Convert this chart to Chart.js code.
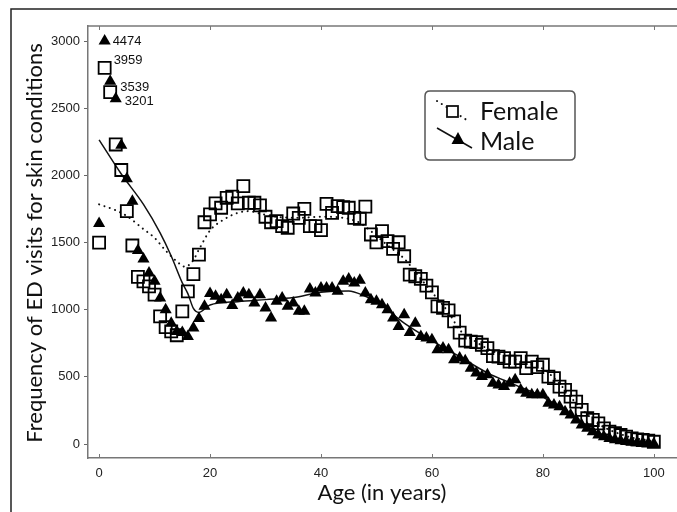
<!DOCTYPE html>
<html>
<head>
<meta charset="utf-8">
<title>ED visits for skin conditions</title>
<script src="https://cdn.jsdelivr.net/npm/chart.js@4.4.0/dist/chart.umd.min.js"></script>
<style>
body{margin:0;background:#fff;}
#wrap{width:677px;height:512px;}
</style>
</head>
<body>
<div id="wrap"><canvas id="chart" width="677" height="512"></canvas></div>
<script>
// ages 0..100
var ages = [0,1,2,3,4,5,6,7,8,9,10,11,12,13,14,15,16,17,18,19,20,
  21,22,23,24,25,26,27,28,29,30,31,32,33,34,35,36,37,38,39,40,
  41,42,43,44,45,46,47,48,49,50,51,52,53,54,55,56,57,58,59,60,
  61,62,63,64,65,66,67,68,69,70,71,72,73,74,75,76,77,78,79,80,
  81,82,83,84,85,86,87,88,89,90,91,92,93,94,95,96,97,98,99,100];

// plotted heights (ages 1-3 are drawn off-scale, true counts in noteText)
var female = [1500,2800,2620,2230,2040,1734,1478,1244,1211,1174,1112,
  950,870,838,810,988,1137,1265,1410,1651,1709,
  1791,1759,1833,1841,1791,1920,1796,1796,1776,1692,
  1651,1659,1622,1610,1716,1684,1751,1622,1622,1593,
  1788,1721,1771,1764,1759,1684,1677,1767,1560,1502,
  1585,1510,1453,1502,1398,1261,1249,1229,1179,1129,
  1025,1013,995,913,830,770,763,758,739,714,
  655,651,639,614,614,639,565,614,572,590,
  502,490,428,403,353,316,254,192,179,154,
  117,92,80,67,55,42,35,30,25,17];

var male = [1642,3000,2700,2570,2224,1975,1808,1440,1378,1274,1211,
  1087,1000,900,838,830,800,863,935,1025,1120,
  1100,1075,1112,1032,1087,1125,1112,1050,1112,1013,
  938,1062,1087,1025,1050,988,988,1154,1125,1162,
  1162,1162,1137,1211,1229,1199,1219,1125,1075,1062,
  1037,1000,938,875,963,830,900,801,789,776,
  701,714,701,627,640,620,565,528,502,515,
  453,440,428,453,478,403,378,366,366,366,
  303,291,278,241,216,179,142,117,92,67,
  55,42,32,25,18,14,10,7,5,3];

// smoothed curves
var femaleFitAges = [0,3,5,8,10,12,14,15.5,17,18,20,22,25,27,29,32,36,40,44,47,49,52,55,58,60,63,65,68,70,75,80,83,85,88,90,95,100];
var femaleFit = [1784,1740,1697,1600,1535,1440,1360,1320,1370,1448,1590,1659,1721,1734,1716,1692,1684,1692,1684,1647,1585,1480,1380,1230,1130,980,850,760,710,630,560,450,350,220,150,60,20];
var maleFitAges = [0,4,8,11,13,15,16,17,18,20,25,30,35,40,45,48,50,55,60,65,70,75,80,85,90,95,100];
var maleFit = [2264,2010,1784,1572,1400,1200,1120,1010,980,1035,1060,1075,1090,1130,1140,1100,1060,900,770,650,530,440,350,220,80,25,5];

var xTicks = [0,20,40,60,80,100];
var yTicks = [0,500,1000,1500,2000,2500,3000];

// labels for the off-scale points
var noteAges = [1,1,2,3];
var noteSeries = ['male','female','male','male'];
var noteText = ['4474','3959','3539','3201'];

function pts(xs, ys){
  var out = [];
  for (var i = 0; i < xs.length; i++) out.push({x: xs[i], y: ys[i]});
  return out;
}

var extras = {
  id: 'extras',
  afterDraw: function(chart){
    var ctx = chart.ctx, xs = chart.scales.x, ys = chart.scales.y, a = chart.chartArea;
    ctx.save();
    // outer frame
    ctx.strokeStyle = '#222'; ctx.lineWidth = 1.5;
    ctx.beginPath(); ctx.moveTo(11, 512); ctx.lineTo(11, 9); ctx.lineTo(677, 9); ctx.stroke();
    // top axis line
    ctx.strokeStyle = '#777'; ctx.lineWidth = 1.5;
    ctx.beginPath(); ctx.moveTo(a.left, a.top); ctx.lineTo(677, a.top); ctx.stroke();
    // inward x ticks top and bottom
    ctx.lineWidth = 1;
    xTicks.forEach(function(v){
      var px = Math.round(xs.getPixelForValue(v)) + 0.5;
      ctx.beginPath();
      ctx.moveTo(px, a.top); ctx.lineTo(px, a.top + 4);
      ctx.moveTo(px, a.bottom); ctx.lineTo(px, a.bottom - 4);
      ctx.stroke();
    });
    // axis titles
    ctx.fillStyle = '#111';
    ctx.font = '22px Lato';
    ctx.textAlign = 'center'; ctx.textBaseline = 'middle';
    ctx.fillText('Age (in years)', 382, 493);
    ctx.save();
    ctx.translate(35, 243); ctx.rotate(-Math.PI / 2);
    ctx.fillText('Frequency of ED visits for skin conditions', 0, 0);
    ctx.restore();
    // notes on off-scale points
    ctx.font = '13px "Liberation Sans"';
    ctx.textAlign = 'left';
    var offs = [[8, 0], [9, -7], [10, 6], [9, 3]];
    for (var i = 0; i < noteAges.length; i++) {
      var arr = noteSeries[i] === 'male' ? male : female;
      var px = xs.getPixelForValue(noteAges[i]);
      var py = ys.getPixelForValue(arr[noteAges[i]]);
      ctx.fillText(noteText[i], px + offs[i][0], py + offs[i][1]);
    }
    // legend
    var bx = 425, by = 91, bw = 150, bh = 69, r = 5;
    ctx.strokeStyle = '#555'; ctx.lineWidth = 1.5;
    ctx.beginPath();
    ctx.moveTo(bx + r, by); ctx.lineTo(bx + bw - r, by); ctx.quadraticCurveTo(bx + bw, by, bx + bw, by + r);
    ctx.lineTo(bx + bw, by + bh - r); ctx.quadraticCurveTo(bx + bw, by + bh, bx + bw - r, by + bh);
    ctx.lineTo(bx + r, by + bh); ctx.quadraticCurveTo(bx, by + bh, bx, by + bh - r);
    ctx.lineTo(bx, by + r); ctx.quadraticCurveTo(bx, by, bx + r, by);
    ctx.stroke();
    // female key
    ctx.strokeStyle = '#111'; ctx.lineWidth = 2; ctx.lineCap = 'round';
    ctx.setLineDash([0.1, 5.5]);
    ctx.beginPath(); ctx.moveTo(437, 101); ctx.lineTo(470, 122); ctx.stroke();
    ctx.setLineDash([]); ctx.lineCap = 'butt';
    ctx.fillStyle = '#fff'; ctx.lineWidth = 1.8;
    ctx.fillRect(447, 106, 11, 11); ctx.strokeRect(447, 106, 11, 11);
    // male key
    ctx.lineWidth = 1.5;
    ctx.beginPath(); ctx.moveTo(437, 128); ctx.lineTo(472, 148); ctx.stroke();
    ctx.fillStyle = '#000';
    ctx.beginPath(); ctx.moveTo(458, 132); ctx.lineTo(464.5, 144); ctx.lineTo(451.5, 144); ctx.closePath(); ctx.fill();
    ctx.fillStyle = '#111';
    ctx.font = '25px Lato'; ctx.textBaseline = 'middle';
    ctx.fillText('Female', 480, 112);
    ctx.fillText('Male', 480, 142);
    ctx.restore();
  }
};

new Chart(document.getElementById('chart'), {
  type: 'scatter',
  data: {
    datasets: [{
      label: 'Female',
      data: pts(ages, female),
      pointStyle: 'rect',
      pointRadius: 8.5,
      pointBorderWidth: 1.8,
      pointBorderColor: '#000',
      pointBackgroundColor: 'rgba(0,0,0,0)',
      showLine: false
    }, {
      label: 'Male',
      data: pts(ages, male),
      pointStyle: 'triangle',
      pointRadius: 7,
      pointBorderWidth: 0,
      pointBorderColor: '#000',
      pointBackgroundColor: '#000',
      showLine: false
    }, {
      label: 'Female fit',
      data: pts(femaleFitAges, femaleFit),
      showLine: true,
      pointRadius: 0,
      borderColor: '#111',
      borderWidth: 2,
      borderDash: [0.1, 5.5],
      borderCapStyle: 'round',
      cubicInterpolationMode: 'monotone'
    }, {
      label: 'Male fit',
      data: pts(maleFitAges, maleFit),
      showLine: true,
      pointRadius: 0,
      borderColor: '#111',
      borderWidth: 1.5,
      cubicInterpolationMode: 'monotone'
    }]
  },
  options: {
    responsive: false,
    animation: false,
    devicePixelRatio: 1,
    layout: {autoPadding: false, padding: {top: 26, right: 1, left: 0, bottom: 0}},
    plugins: {legend: {display: false}, tooltip: {enabled: false}},
    scales: {
      x: {
        type: 'linear', min: -2, max: 104,
        afterBuildTicks: function(s){ s.ticks = xTicks.map(function(v){ return {value: v}; }); },
        afterFit: function(s){ s.height = 54; },
        grid: {display: false, drawTicks: false},
        border: {display: true, color: '#777', width: 1.5},
        ticks: {padding: 8, maxRotation: 0, color: '#222', font: {family: 'Liberation Sans', size: 13},
          callback: function(v){ return String(v); }}
      },
      y: {
        type: 'linear', min: -104, max: 3112,
        afterBuildTicks: function(s){ s.ticks = yTicks.map(function(v){ return {value: v}; }); },
        afterFit: function(s){ s.width = 88; },
        grid: {drawOnChartArea: false, tickLength: 4, color: '#666'},
        border: {display: true, color: '#777', width: 1.5},
        ticks: {padding: 4, color: '#222', font: {family: 'Liberation Sans', size: 13},
          callback: function(v){ return String(v); }}
      }
    }
  },
  plugins: [extras]
});
</script>
</body>
</html>
